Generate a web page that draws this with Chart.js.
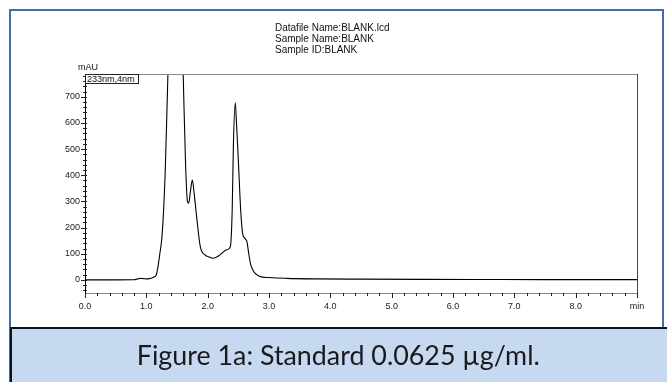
<!DOCTYPE html>
<html>
<head>
<meta charset="utf-8">
<script src="https://cdn.jsdelivr.net/npm/chart.js@4"></script>
<style>
  html, body { margin:0; padding:0; background:#fff; }
  #wrap { position:relative; width:667px; height:382px; overflow:hidden; }
  #c { position:absolute; left:0; top:0; }
  .frame { position:absolute; left:9px; top:9px; width:655px; height:380px; border:2px solid #3f6ea8; box-sizing:border-box; }
  .hdr { position:absolute; left:275px; font-family:"Liberation Sans", Arial, sans-serif; font-size:10px; color:#111; line-height:11px; white-space:nowrap; }
  .mau { position:absolute; left:78px; top:62px; font-family:"Liberation Sans", Arial, sans-serif; font-size:9px; color:#111; }
  .wl { position:absolute; left:85px; top:74px; width:54px; height:10px; border:1px solid #222; box-sizing:border-box; font-family:"Liberation Sans", Arial, sans-serif; font-size:9px; line-height:8px; color:#111; padding-left:1px; white-space:nowrap; background:#fff; }
  .cap { position:absolute; left:10px; top:327px; width:660px; height:60px; background:#c6d9f1; border-top:2px solid #111; border-left:2px solid #111; box-sizing:border-box; }
  .capt { position:absolute; top:342px; left:0; width:677px; text-align:center; font-family:"Lato", "Open Sans", sans-serif; font-size:26px; line-height:26px; color:#1a1a1a; white-space:nowrap; }
  .capt span { display:inline-block; transform-origin:center; }
</style>
</head>
<body>
<div id="wrap">
  <canvas id="c" width="667" height="382"></canvas>
  <div class="frame"></div>
  <div class="hdr" style="top:22px">Datafile Name:BLANK.lcd</div>
  <div class="hdr" style="top:33px">Sample Name:BLANK</div>
  <div class="hdr" style="top:44px">Sample ID:BLANK</div>
  <div class="mau">mAU</div>
  <div class="wl">233nm,4nm</div>
  <div class="cap"></div>
  <div class="capt"><span id="captxt">Figure 1a: Standard 0.0625 µg/ml.</span></div>
</div>
<script>
// ---- data (retention time in min, absorbance in mAU) ----
const timeMin = [0.00, 0.50, 0.80, 0.86, 0.90, 0.95, 1.00, 1.05, 1.10, 1.13, 1.16, 1.19, 1.22, 1.25, 1.28, 1.31, 1.34, 1.37, 1.42, 1.48, 1.54, 1.58, 1.61, 1.64, 1.67, 1.69, 1.72, 1.75, 1.78, 1.82, 1.88, 1.96, 2.02, 2.09, 2.18, 2.31, 2.37, 2.40, 2.42, 2.45, 2.47, 2.50, 2.54, 2.57, 2.61, 2.64, 2.67, 2.70, 2.75, 2.80, 2.85, 3.00, 3.29, 3.80, 4.50, 5.50, 6.50, 7.50, 8.50, 9.00];
const absorbance = [0, 0, 0.5, 4, 6, 5, 4, 5, 8, 12, 18, 50, 100, 153, 260, 430, 680, 950, 1400, 1700, 1450, 1000, 700, 440, 300, 293, 340, 382, 330, 242, 127, 95, 88, 83, 92, 115, 127, 267, 520, 677, 600, 458, 260, 178, 158, 146, 100, 60, 32, 20, 13, 9, 6, 4, 3, 2, 1.5, 1, 1, 1];
const xTickValues = [0, 1, 2, 3, 4, 5, 6, 7, 8, 9];
const yTickValues = [0, 100, 200, 300, 400, 500, 600, 700];

const points = timeMin.map((t, i) => ({ x: t, y: absorbance[i] }));

const axisDecor = {
  id: 'axisDecor',
  afterDraw(chart) {
    const { ctx, chartArea: a, scales: { x, y } } = chart;
    ctx.save();
    ctx.lineWidth = 1;
    ctx.strokeStyle = '#8a8a8a';
    ctx.beginPath(); ctx.moveTo(a.left, a.top + 0.5); ctx.lineTo(a.right, a.top + 0.5); ctx.stroke();
    ctx.strokeStyle = '#444';
    ctx.beginPath(); ctx.moveTo(a.right + 0.5, a.top); ctx.lineTo(a.right + 0.5, a.bottom); ctx.stroke();
    ctx.strokeStyle = '#222';
    for (let i = 0; i <= 45; i++) {
      const v = i * 0.2;
      const px = Math.round(x.getPixelForValue(v)) + 0.5;
      const major = (i % 5 === 0);
      ctx.beginPath(); ctx.moveTo(px, a.bottom); ctx.lineTo(px, a.bottom + (major ? 5 : 3)); ctx.stroke();
    }
    for (let v = -40; v <= 780; v += 20) {
      const py = Math.round(y.getPixelForValue(v)) + 0.5;
      const major = (v % 100 === 0);
      ctx.beginPath(); ctx.moveTo(a.left - (major ? 4 : 2), py); ctx.lineTo(a.left + 2, py); ctx.stroke();
    }
    ctx.restore();
  }
};

new Chart(document.getElementById('c'), {
  type: 'line',
  data: {
    datasets: [{
      data: points,
      borderColor: '#000',
      borderWidth: 1.1,
      pointRadius: 0,
      cubicInterpolationMode: 'monotone',
      fill: false
    }]
  },
  options: {
    responsive: false,
    devicePixelRatio: 1,
    animation: false,
    events: [],
    layout: { padding: { left: 0, top: 74, right: 30, bottom: 59 } },
    plugins: { legend: { display: false }, tooltip: { enabled: false } },
    scales: {
      x: {
        type: 'linear', min: 0, max: 9,
        afterBuildTicks: s => { s.ticks = xTickValues.map(v => ({ value: v })); },
        afterFit: s => { s.height = 30; },
        grid: { display: false, drawTicks: false },
        border: { display: true, color: '#8a8a8a', width: 1 },
        ticks: {
          padding: 8, autoSkip: false, maxRotation: 0, color: '#222',
          font: { family: 'Liberation Sans, Arial, sans-serif', size: 9 },
          callback: v => (v === 9 ? 'min' : v.toFixed(1))
        }
      },
      y: {
        type: 'linear', min: -50, max: 787,
        afterBuildTicks: s => { s.ticks = yTickValues.map(v => ({ value: v })); },
        afterFit: s => { s.width = 85; },
        grid: { display: false, drawTicks: false },
        border: { display: true, color: '#000', width: 1 },
        ticks: {
          padding: 5, color: '#222',
          font: { family: 'Liberation Sans, Arial, sans-serif', size: 9 },
          callback: v => String(v)
        }
      }
    }
  },
  plugins: [axisDecor]
});

// fit caption width to reference (~403px)
const sp = document.getElementById('captxt');
const w = sp.getBoundingClientRect().width;
if (w > 0) sp.style.transform = 'scaleX(' + (403 / w) + ')';
</script>
</body>
</html>
